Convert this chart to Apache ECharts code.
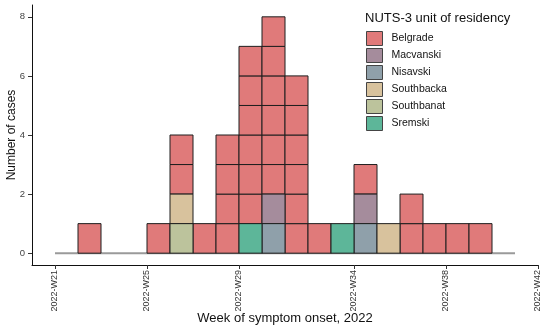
<!DOCTYPE html>
<html>
<head>
<meta charset="utf-8">
<script src="https://cdn.jsdelivr.net/npm/echarts@6/dist/echarts.min.js"></script>
<style>
html,body{margin:0;padding:0;background:#fff;}
#chart{width:550px;height:329px;}
</style>
</head>
<body>
<div id="chart"></div>
<script>
// Week (ISO week number of 2022) of each bar
var weeks      = [22, 25, 26, 27, 28, 29, 30, 31, 32, 33, 34, 35, 36, 37, 38, 39];
var belgrade   = [ 1,  1,  2,  1,  4,  6,  6,  6,  1,  0,  1,  0,  2,  1,  1,  1];
var macvanski  = [ 0,  0,  0,  0,  0,  0,  1,  0,  0,  0,  1,  0,  0,  0,  0,  0];
var nisavski   = [ 0,  0,  0,  0,  0,  0,  1,  0,  0,  0,  1,  0,  0,  0,  0,  0];
var southbacka = [ 0,  0,  1,  0,  0,  0,  0,  0,  0,  0,  0,  1,  0,  0,  0,  0];
var southbanat = [ 0,  0,  1,  0,  0,  0,  0,  0,  0,  0,  0,  0,  0,  0,  0,  0];
var sremski    = [ 0,  0,  0,  0,  0,  1,  0,  0,  0,  1,  0,  0,  0,  0,  0,  0];

var regionNames  = ['Belgrade', 'Macvanski', 'Nisavski', 'Southbacka', 'Southbanat', 'Sremski'];
var regionColors = ['#E07A7A', '#A58C9C', '#8FA0AA', '#D8C29D', '#BCC39C', '#5DB699'];

var tickWeeks  = [21, 25, 29, 34, 38, 42];
var tickLabels = ['2022-W21', '2022-W25', '2022-W29', '2022-W34', '2022-W38', '2022-W42'];
var yTicks     = [0, 2, 4, 6, 8];
var baselineRange = [21, 41];

var counts = {
  'Belgrade': belgrade, 'Macvanski': macvanski, 'Nisavski': nisavski,
  'Southbacka': southbacka, 'Southbanat': southbanat, 'Sremski': sremski
};
// stacking order bottom -> top
var stackOrder = ['Sremski', 'Southbanat', 'Southbacka', 'Nisavski', 'Macvanski', 'Belgrade'];

var cells = {};
regionNames.forEach(function (r) { cells[r] = []; });
weeks.forEach(function (w, i) {
  var level = 0;
  stackOrder.forEach(function (r) {
    for (var k = 0; k < counts[r][i]; k++) {
      cells[r].push([w, level]);
      level++;
    }
  });
});

function renderCell(params, api) {
  var w = api.value(0), y = api.value(1);
  var p0 = api.coord([w, y]);
  var p1 = api.coord([w + 1, y + 1]);
  return {
    type: 'rect',
    shape: { x: p0[0], y: p1[1], width: p1[0] - p0[0], height: p0[1] - p1[1] },
    style: { fill: api.visual('color'), stroke: '#1e1e1e', lineWidth: 1 }
  };
}

var font = 'Liberation Sans, Arial, sans-serif';

var series = [{
  type: 'line',
  data: [[baselineRange[0], 0], [baselineRange[1], 0]],
  symbol: 'none',
  lineStyle: { color: '#9a9a9a', width: 2 },
  silent: true,
  z: 1
}];
regionNames.forEach(function (r, i) {
  series.push({
    name: r,
    type: 'custom',
    renderItem: renderCell,
    encode: { x: 0, y: 1 },
    data: cells[r],
    itemStyle: { color: regionColors[i], borderColor: '#333', borderWidth: 1 },
    z: 2
  });
});

var chart = echarts.init(document.getElementById('chart'), null, { renderer: 'canvas' });
chart.setOption({
  animation: false,
  backgroundColor: '#fff',
  title: {
    text: 'NUTS-3 unit of residency',
    left: 365, top: 12,
    padding: 0,
    textStyle: { fontFamily: font, fontSize: 13, fontWeight: 'normal', color: '#111' }
  },
  legend: {
    orient: 'vertical',
    left: 366, top: 31,
    padding: 0,
    itemWidth: 16, itemHeight: 14, itemGap: 2,
    icon: 'rect',
    data: regionNames.map(function (r, i) {
      return { name: r, itemStyle: { color: regionColors[i], borderColor: '#444', borderWidth: 1 } };
    }),
    textStyle: { fontFamily: font, fontSize: 10.5, color: '#111', padding: [0, 0, 0, 4] }
  },
  grid: { left: 32, right: 12, top: 5, bottom: 64, containLabel: false, outerBoundsMode: 'none' },
  xAxis: {
    type: 'value',
    min: 20, max: 42,
    axisLine: { show: true, onZero: false, lineStyle: { color: '#111', width: 1 } },
    axisTick: { show: true, length: 4, customValues: tickWeeks, lineStyle: { color: '#333' } },
    axisLabel: {
      customValues: tickWeeks,
      rotate: 90, margin: 5,
      formatter: function (v) { return tickLabels[tickWeeks.indexOf(v)]; },
      fontFamily: font, fontSize: 9, color: '#333'
    },
    splitLine: { show: false },
    name: 'Week of symptom onset, 2022',
    nameLocation: 'middle', nameGap: 47, nameMoveOverlap: false,
    nameTextStyle: { fontFamily: font, fontSize: 13, color: '#111' }
  },
  yAxis: {
    type: 'value',
    min: -0.4, max: 8.4,
    axisLine: { show: true, lineStyle: { color: '#111', width: 1 } },
    axisTick: { show: true, length: 4, customValues: yTicks, lineStyle: { color: '#333' } },
    axisLabel: {
      customValues: yTicks,
      margin: 7,
      fontFamily: font, fontSize: 9.5, color: '#444'
    },
    splitLine: { show: false },
    name: 'Number of cases',
    nameLocation: 'middle', nameGap: 14, nameMoveOverlap: false,
    nameTextStyle: { fontFamily: font, fontSize: 12, color: '#111' }
  },
  series: series
});
</script>
</body>
</html>
